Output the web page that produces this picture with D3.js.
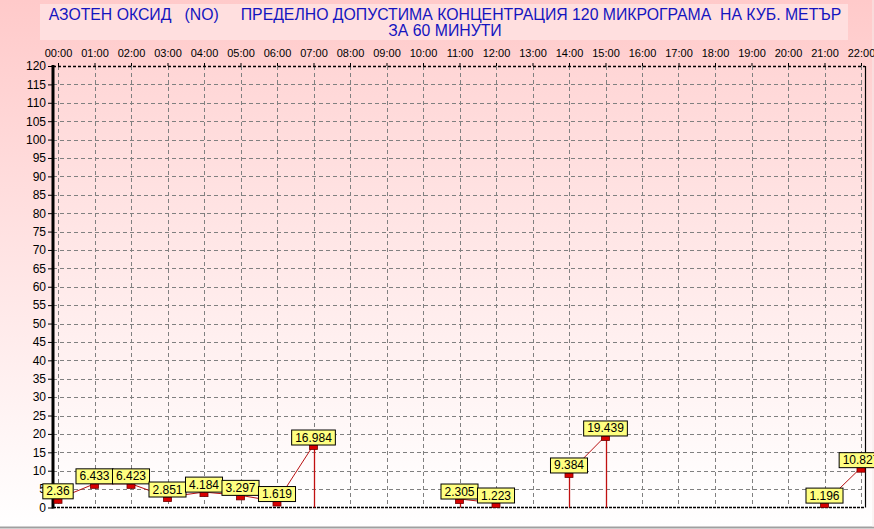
<!DOCTYPE html>
<html>
<head>
<meta charset="utf-8">
<script src="https://cdn.jsdelivr.net/npm/d3@7"></script>
<style>
  html, body { margin: 0; padding: 0; background: #fff; }
  svg { display: block; font-family: Arial, "Liberation Sans", sans-serif; }
</style>
</head>
<body>
<svg id="chart" width="874" height="529"></svg>
<script>
// hourly values, null where there is no measurement
var hours = ['00:00','01:00','02:00','03:00','04:00','05:00','06:00','07:00','08:00','09:00','10:00',
	'11:00','12:00','13:00','14:00','15:00','16:00','17:00','18:00','19:00','20:00','21:00','22:00'];
var values = [2.36, 6.433, 6.423, 2.851, 4.184, 3.297, 1.619, 16.984, null, null, null,
	2.305, 1.223, null, 9.384, 19.439, null, null, null, null, null, 1.196, 10.827];
var yTicks = d3.range(0, 121, 5);
var titleLines = ['АЗОТЕН ОКСИД   (NO)     ПРЕДЕЛНО ДОПУСТИМА КОНЦЕНТРАЦИЯ 120 МИКРОГРАМА  НА КУБ. МЕТЪР',
	'ЗА 60 МИНУТИ'];

var W = 874, H = 529;
var plot = {left: 53, right: 865, top: 66, bottom: 507.5};

var svg = d3.select('#chart');
var defs = svg.append('defs');

var bg = defs.append('linearGradient').attr('id', 'bg').attr('x1', 0).attr('y1', 0).attr('x2', 0).attr('y2', 1);
bg.append('stop').attr('offset', '0%').attr('stop-color', '#ffcaca');
bg.append('stop').attr('offset', '100%').attr('stop-color', '#ffffff');

var pg = defs.append('linearGradient').attr('id', 'pg').attr('x1', 0).attr('y1', 0).attr('x2', 0).attr('y2', 1);
pg.append('stop').attr('offset', '0%').attr('stop-color', '#ffd6d6');
pg.append('stop').attr('offset', '100%').attr('stop-color', '#ffffff');

svg.append('rect').attr('width', W).attr('height', H - 2).attr('fill', 'url(#bg)');
svg.append('line').attr('x1', 0).attr('x2', W).attr('y1', H - 1.5).attr('y2', H - 1.5)
	.attr('stroke', '#a0a0a0').attr('stroke-width', 2);
svg.append('line').attr('x1', W - 1).attr('x2', W - 1).attr('y1', 0).attr('y2', H - 2)
	.attr('stroke', '#f4eaea').attr('stroke-width', 1);

// title
svg.append('rect').attr('x', 40).attr('y', 4).attr('width', 808).attr('height', 36).attr('fill', '#ffdfdf');
svg.selectAll('text.title').data(titleLines).enter().append('text')
	.attr('class', 'title')
	.attr('x', 445)
	.attr('y', function(d, i) { return 20 + i * 16; })
	.attr('text-anchor', 'middle')
	.attr('font-size', 15.8)
	.attr('fill', '#1414c0')
	.style('white-space', 'pre')
	.text(function(d) { return d; });

var x = d3.scaleLinear().domain([0, hours.length - 1]).range([58, 861]);
var y = d3.scaleLinear().domain([0, 120]).range([plot.bottom, plot.top]);

svg.append('rect').attr('x', plot.left).attr('y', plot.top)
	.attr('width', plot.right - plot.left).attr('height', plot.bottom - plot.top)
	.attr('fill', 'url(#pg)');

// grid
var grid = svg.append('g').attr('stroke', '#808080').attr('stroke-width', 1).attr('stroke-dasharray', '4,3');
grid.selectAll('line.v').data(hours).enter().append('line')
	.attr('x1', function(d, i) { return Math.round(x(i)) + 0.5; })
	.attr('x2', function(d, i) { return Math.round(x(i)) + 0.5; })
	.attr('y1', plot.top).attr('y2', plot.bottom);
grid.selectAll('line.h').data(yTicks.filter(function(t) { return t > 0 && t < 120; })).enter().append('line')
	.attr('x1', plot.left).attr('x2', plot.right)
	.attr('y1', function(d) { return Math.round(y(d)) + 0.5; })
	.attr('y2', function(d) { return Math.round(y(d)) + 0.5; });

// frame
svg.append('line').attr('x1', plot.left).attr('x2', plot.right).attr('y1', plot.top + 0.5).attr('y2', plot.top + 0.5)
	.attr('stroke', '#000').attr('stroke-width', 1.6).attr('stroke-dasharray', '3,2');
svg.append('line').attr('x1', plot.left).attr('x2', plot.right).attr('y1', plot.bottom).attr('y2', plot.bottom)
	.attr('stroke', '#000').attr('stroke-width', 1.5).attr('stroke-dasharray', '3,1');
svg.append('line').attr('x1', plot.right + 0.5).attr('x2', plot.right + 0.5).attr('y1', plot.top).attr('y2', plot.bottom)
	.attr('stroke', '#000').attr('stroke-width', 1.2);

// y axis
var yAxis = d3.axisLeft(y).tickValues(yTicks).tickSize(5).tickPadding(2);
var yg = svg.append('g').attr('transform', 'translate(' + plot.left + ',0)').call(yAxis);
yg.select('.domain').remove();
yg.selectAll('text').attr('font-size', 12).attr('font-family', 'Arial, "Liberation Sans", sans-serif').attr('fill', '#000');
yg.selectAll('line').attr('stroke', '#000');
svg.append('line').attr('x1', plot.left).attr('x2', plot.left).attr('y1', plot.top - 1).attr('y2', plot.bottom + 1)
	.attr('stroke', '#000').attr('stroke-width', 3);

// x axis on top
var xAxis = d3.axisTop(x).tickValues(d3.range(hours.length)).tickFormat(function(i) { return hours[i]; })
	.tickSize(3).tickPadding(6);
var xg = svg.append('g').attr('transform', 'translate(0,' + plot.top + ')').call(xAxis);
xg.select('.domain').remove();
xg.selectAll('text').attr('font-size', 11).attr('font-family', 'Arial, "Liberation Sans", sans-serif').attr('fill', '#000');
xg.selectAll('line').attr('stroke', '#000');

// series
var pts = values.map(function(v, i) { return {i: i, v: v}; });
var line = d3.line()
	.defined(function(d) { return d.v !== null; })
	.x(function(d) { return x(d.i); })
	.y(function(d) { return y(d.v); });

var series = svg.append('g');
series.append('path').datum(pts).attr('d', line)
	.attr('fill', 'none').attr('stroke', '#b81010').attr('stroke-width', 1);

// drop lines where a neighbour is missing
var drops = pts.filter(function(d) {
	if (d.v === null) return false;
	var prev = d.i > 0 ? values[d.i - 1] : 0;
	var next = d.i < values.length - 1 ? values[d.i + 1] : 0;
	return prev === null || next === null;
});
series.selectAll('line.drop').data(drops).enter().append('line')
	.attr('x1', function(d) { return Math.round(x(d.i)) + 0.5; })
	.attr('x2', function(d) { return Math.round(x(d.i)) + 0.5; })
	.attr('y1', function(d) { return y(d.v); })
	.attr('y2', plot.bottom)
	.attr('stroke', '#c01010').attr('stroke-width', 1.3);

var valid = pts.filter(function(d) { return d.v !== null; });
series.selectAll('rect.mark').data(valid).enter().append('rect')
	.attr('x', function(d) { return x(d.i) - 4; })
	.attr('y', function(d) { return y(d.v); })
	.attr('width', 8).attr('height', 4.5)
	.attr('fill', '#d80000').attr('stroke', '#700000').attr('stroke-width', 0.8);

// value labels
var labels = svg.append('g');
valid.forEach(function(d) {
	var g = labels.append('g');
	var t = g.append('text')
		.attr('x', x(d.i))
		.attr('y', y(d.v) - 3.5)
		.attr('text-anchor', 'middle')
		.attr('font-size', 12)
		.attr('fill', '#000')
		.text(String(d.v));
	var w = t.node().getComputedTextLength() + 7;
	g.insert('rect', 'text')
		.attr('x', x(d.i) - w / 2)
		.attr('y', y(d.v) - 15)
		.attr('width', w).attr('height', 15)
		.attr('fill', '#ffff80').attr('stroke', '#000').attr('stroke-width', 1);
});
</script>
</body>
</html>
